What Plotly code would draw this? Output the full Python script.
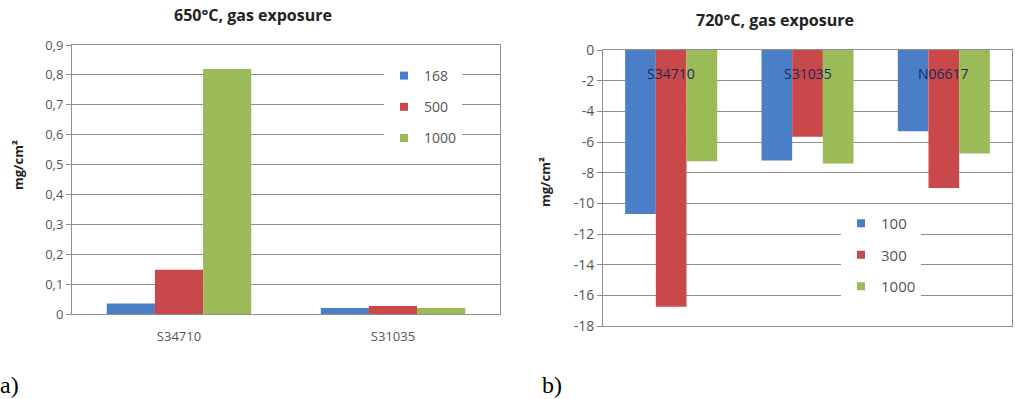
import plotly.graph_objects as go

W, H = 1015, 399

# Left chart: 650°C
cats_a = ["S34710", "S31035"]
series_a = ["168", "500", "1000"]
vals_a = {
    "168": [0.035, 0.020],
    "500": [0.148, 0.027],
    "1000": [0.820, 0.020],
}
yticks_a = [0, 0.1, 0.2, 0.3, 0.4, 0.5, 0.6, 0.7, 0.8, 0.9]

# Right chart: 720°C
cats_b = ["S34710", "S31035", "N06617"]
series_b = ["100", "300", "1000"]
vals_b = {
    "100": [-10.7, -7.2, -5.3],
    "300": [-16.75, -5.65, -9.0],
    "1000": [-7.25, -7.4, -6.75],
}
yticks_b = [0, -2, -4, -6, -8, -10, -12, -14, -16, -18]
yticktext_b = ["0", "-2", "-4", "-6", "-8", "-10", "-12", "-14", "-16", "-18"]

colors = ["#4a7ec6", "#c9484a", "#9bbb59"]
FONT = "Open Sans"
GRID = "#8f8f8f"
TXT = "#555555"

fig = go.Figure()
for i, s in enumerate(series_a):
    fig.add_trace(go.Bar(x=cats_a, y=vals_a[s], name=s, marker_color=colors[i],
                         marker_line_width=0, xaxis="x", yaxis="y",
                         showlegend=False))
    fig.add_trace(go.Scatter(x=[None], y=[None], mode="markers", name=s,
                             marker=dict(symbol="square", size=8, color=colors[i]),
                             xaxis="x", yaxis="y", legend="legend",
                             legendgroup="a" + s))
for i, s in enumerate(series_b):
    fig.add_trace(go.Bar(x=cats_b, y=vals_b[s], name=s, marker_color=colors[i],
                         marker_line_width=0, xaxis="x2", yaxis="y2",
                         showlegend=False))
    fig.add_trace(go.Scatter(x=[None], y=[None], mode="markers", name=s,
                             marker=dict(symbol="square", size=8, color=colors[i]),
                             xaxis="x2", yaxis="y2", legend="legend2",
                             legendgroup="b" + s))


def px_x(p):
    return p / W


def px_y(p):
    return (H - p) / H


def label(text, x, y, size, family=FONT, color="#222222", angle=0):
    return dict(text=text, x=px_x(x), y=px_y(y), xref="paper", yref="paper",
                xanchor="center", yanchor="middle", textangle=angle,
                showarrow=False, font=dict(family=family, size=size, color=color))


annotations = [
    label("<b>650°C, gas exposure</b>", 253, 15, 16),
    label("<b>720°C, gas exposure</b>", 775, 20, 16),
    label("<b>mg/cm²</b>", 18, 165, 13, angle=-90),
    label("<b>mg/cm²</b>", 545, 182, 13, angle=-90),
    label("a)", 9, 385, 24, family="Liberation Serif", color="black"),
    label("b)", 552, 385, 24, family="Liberation Serif", color="black"),
]
# category labels of the 720°C chart sit just below the top (zero) line
for c in cats_b:
    annotations.append(dict(text=c, x=c, xref="x2", y=px_y(73), yref="paper",
                            yanchor="middle", showarrow=False,
                            font=dict(family=FONT, size=14, color="#1a2a58")))

fig.update_layout(
    template="none",
    width=W, height=H,
    margin=dict(l=0, r=0, t=0, b=0, pad=0, autoexpand=False),
    paper_bgcolor="white", plot_bgcolor="white",
    separators=",.",
    barmode="group", bargap=0.325, bargroupgap=0,
    showlegend=True,
    xaxis=dict(domain=[px_x(72), px_x(500)], anchor="y", showgrid=False,
               automargin=False, ticklabelstandoff=10,
               showline=True, linecolor=GRID, mirror=True, ticks="",
               tickfont=dict(family=FONT, size=13, color=TXT)),
    yaxis=dict(domain=[px_y(314), px_y(45)], anchor="x", range=[0, 0.9],
               automargin=False,
               tickvals=yticks_a, showgrid=True, gridcolor=GRID, gridwidth=1,
               showline=True, linecolor=GRID, mirror=True, ticks="outside",
               ticklen=5, tickcolor=GRID,
               tickfont=dict(family=FONT, size=13, color=TXT), zeroline=False),
    xaxis2=dict(domain=[px_x(603), px_x(1012)], anchor="y2", showgrid=False,
                automargin=False,
                showline=True, linecolor=GRID, mirror=True, ticks="",
                showticklabels=False),
    yaxis2=dict(domain=[px_y(326), px_y(50)], anchor="x2", range=[-18, 0],
                automargin=False,
                tickvals=yticks_b, ticktext=yticktext_b, showgrid=True,
                gridcolor=GRID, gridwidth=1, showline=True, linecolor=GRID,
                mirror=True, ticks="outside", ticklen=5, tickcolor=GRID,
                tickfont=dict(family=FONT, size=14, color=TXT),
                zeroline=False),
    legend=dict(x=px_x(384), y=px_y(60), xanchor="left", yanchor="top",
                bgcolor="white", borderwidth=0, tracegroupgap=10,
                font=dict(family=FONT, size=14, color=TXT)),
    legend2=dict(x=px_x(841), y=px_y(207), xanchor="left", yanchor="top",
                 bgcolor="white", borderwidth=0, tracegroupgap=9,
                 font=dict(family=FONT, size=15, color=TXT)),
    annotations=annotations,
)

fig.write_html("out.html",
               config={"displayModeBar": False},
               post_script="document.body.style.margin='0px';")
